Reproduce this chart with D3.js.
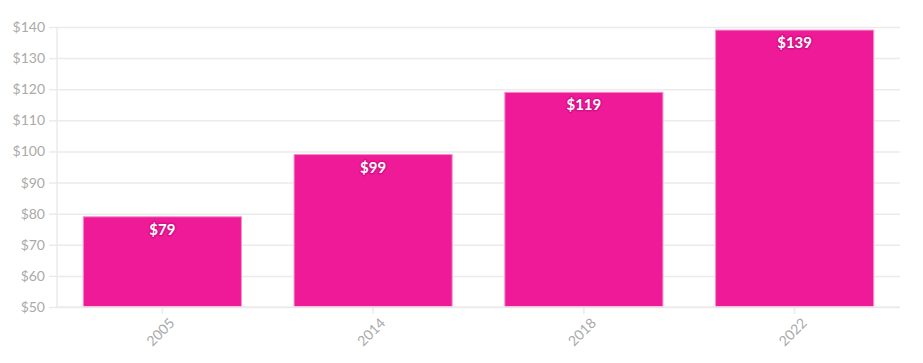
<!DOCTYPE html>
<html>
<head>
<meta charset="utf-8">
<script src="https://cdn.jsdelivr.net/npm/d3@7"></script>
<style>
body { margin: 0; background: #fff; }
svg, svg text { font-family: "Lato", "Open Sans", sans-serif; }
.tick text { fill: #aaa; font-size: 14px; }
.tick line, .domain { stroke: #ebebeb; stroke-width: 1.5px; }
.label { fill: #fff; font-weight: bold; font-size: 15px; text-anchor: middle;
  paint-order: stroke; stroke: #d81088; stroke-width: 3px; stroke-linejoin: round; }
</style>
</head>
<body>
<svg id="chart"></svg>
<script>
var years = ["2005", "2014", "2018", "2022"];
var prices = [79, 99, 119, 139];
var yTicks = [50, 60, 70, 80, 90, 100, 110, 120, 130, 140];

var width = 923, height = 363,
	margin = {top: 27, right: 23, bottom: 56, left: 57};

var svg = d3.select("#chart")
	.attr("width", width)
	.attr("height", height);

var x = d3.scaleBand()
	.domain(years)
	.range([margin.left, width - margin.right])
	.paddingInner(0.25)
	.paddingOuter(0.125);

var y = d3.scaleLinear()
	.domain([50, 140])
	.range([height - margin.bottom, margin.top]);

// gridlines
svg.append("g")
	.attr("transform", "translate(" + margin.left + ",0)")
	.call(d3.axisLeft(y)
		.tickValues(yTicks)
		.tickSize(-(width - margin.left - margin.right))
		.tickFormat(""))
	.call(g => g.select(".domain").remove());

// y axis
svg.append("g")
	.attr("transform", "translate(" + margin.left + ",0)")
	.call(d3.axisLeft(y)
		.tickValues(yTicks)
		.tickSize(8)
		.tickPadding(4)
		.tickFormat(d => "$" + d))
	.call(g => g.select(".domain").attr("d", "M0," + margin.top + "V" + (height - margin.bottom)));

// bars
svg.append("g")
	.selectAll("rect")
	.data(prices)
	.enter()
	.append("rect")
	.attr("x", (d, i) => x(years[i]))
	.attr("y", d => y(d))
	.attr("width", x.bandwidth())
	.attr("height", d => y(50) - y(d))
	.attr("fill", "#ef1a98")
	.attr("stroke", "#f48cc8")
	.attr("stroke-width", 1);

// x axis
svg.append("g")
	.attr("transform", "translate(0," + (height - margin.bottom) + ")")
	.call(d3.axisBottom(x).tickSize(7).tickPadding(6))
	.call(g => g.select(".domain").attr("d", "M" + margin.left + ",0H" + (width - margin.right)))
	.selectAll("text")
	.attr("text-anchor", "end")
	.attr("dx", "-0.2em")
	.attr("dy", "0.6em")
	.attr("transform", "rotate(-45)");

// value labels
svg.append("g")
	.selectAll("text")
	.data(prices)
	.enter()
	.append("text")
	.attr("class", "label")
	.attr("x", (d, i) => x(years[i]) + x.bandwidth() / 2)
	.attr("y", d => y(d) + 18)
	.text(d => "$" + d);
</script>
</body>
</html>
